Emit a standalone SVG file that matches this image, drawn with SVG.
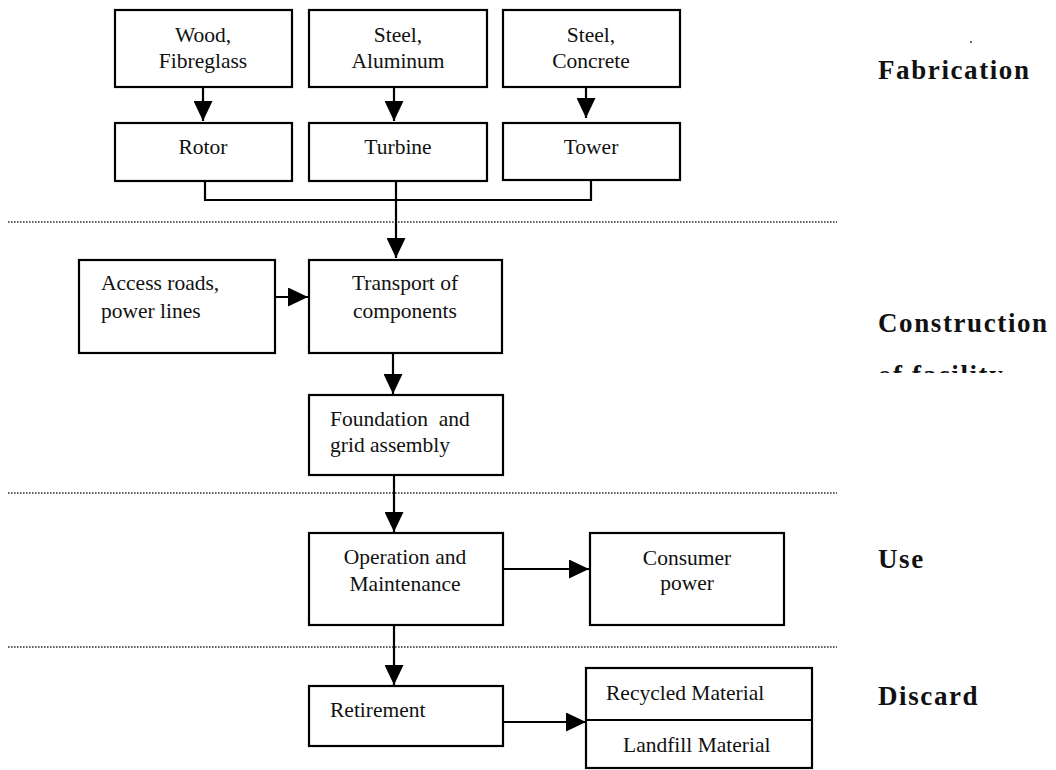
<svg xmlns="http://www.w3.org/2000/svg" width="1056" height="770" viewBox="0 0 1056 770">
<style>
.box{fill:#fff;stroke:#000;stroke-width:2.2}
.t{font-family:"Liberation Serif",serif;font-size:21.5px;fill:#111}
.c{text-anchor:middle}
.sec{font-family:"Liberation Serif",serif;font-size:27px;font-weight:bold;fill:#111;letter-spacing:1.6px}
.ln{fill:none;stroke:#000;stroke-width:2.2}
.dot{stroke:#333;stroke-width:1.6;stroke-dasharray:1.6 1.4}
</style>
<defs>
<marker id="ah" viewBox="0 0 20 19" refX="20" refY="9.5" markerWidth="20" markerHeight="19" markerUnits="userSpaceOnUse" orient="auto">
<path d="M0,0 L20,9.5 L0,19 Z" fill="#000"/>
</marker>
<clipPath id="clipfac"><rect x="860" y="340" width="196" height="33"/></clipPath>
</defs>
<rect width="1056" height="770" fill="#fff"/>

<g id="dividers">
<line class="dot" x1="8" y1="222" x2="837" y2="222"/>
<line class="dot" x1="8" y1="493" x2="837" y2="493"/>
<line class="dot" x1="8" y1="647" x2="837" y2="647"/>
</g>

<g id="connectors">
<line class="ln" x1="203" y1="87" x2="203" y2="121" marker-end="url(#ah)"/>
<line class="ln" x1="394" y1="87" x2="394" y2="121" marker-end="url(#ah)"/>
<line class="ln" x1="586" y1="87" x2="586" y2="118" marker-end="url(#ah)"/>
<polyline class="ln" points="205,181 205,200 591,200 591,180"/>
<line class="ln" x1="396" y1="181" x2="396" y2="258" marker-end="url(#ah)"/>
<line class="ln" x1="275" y1="297" x2="308" y2="297" marker-end="url(#ah)"/>
<line class="ln" x1="393" y1="353" x2="393" y2="394" marker-end="url(#ah)"/>
<line class="ln" x1="394" y1="475" x2="394" y2="532" marker-end="url(#ah)"/>
<line class="ln" x1="503" y1="569" x2="589" y2="569" marker-end="url(#ah)"/>
<line class="ln" x1="394" y1="625" x2="394" y2="685" marker-end="url(#ah)"/>
<line class="ln" x1="503" y1="722" x2="586" y2="722" marker-end="url(#ah)"/>
</g>

<g id="wood">
<rect class="box" x="115" y="10" width="177" height="77"/>
<text class="t c" x="203" y="42">Wood,</text>
<text class="t c" x="203" y="68">Fibreglass</text>
</g>
<g id="steel-aluminum">
<rect class="box" x="309" y="10" width="178" height="77"/>
<text class="t c" x="398" y="42">Steel,</text>
<text class="t c" x="398" y="68">Aluminum</text>
</g>
<g id="steel-concrete">
<rect class="box" x="503" y="10" width="177" height="77"/>
<text class="t c" x="591" y="42">Steel,</text>
<text class="t c" x="591" y="68">Concrete</text>
</g>
<g id="rotor">
<rect class="box" x="115" y="123" width="177" height="58"/>
<text class="t c" x="203" y="154">Rotor</text>
</g>
<g id="turbine">
<rect class="box" x="309" y="123" width="178" height="58"/>
<text class="t c" x="398" y="154">Turbine</text>
</g>
<g id="tower">
<rect class="box" x="503" y="123" width="177" height="57"/>
<text class="t c" x="591" y="154">Tower</text>
</g>
<g id="access">
<rect class="box" x="79" y="260" width="196" height="93"/>
<text class="t" x="101" y="290">Access roads,</text>
<text class="t" x="101" y="318">power lines</text>
</g>
<g id="transport">
<rect class="box" x="309" y="260" width="193" height="93"/>
<text class="t c" x="405" y="290">Transport of</text>
<text class="t c" x="405" y="318">components</text>
</g>
<g id="foundation">
<rect class="box" x="309" y="395" width="194" height="80"/>
<text class="t" x="330" y="426" xml:space="preserve">Foundation  and</text>
<text class="t" x="330" y="452">grid assembly</text>
</g>
<g id="operation">
<rect class="box" x="309" y="533" width="194" height="92"/>
<text class="t c" x="405" y="564">Operation and</text>
<text class="t c" x="405" y="591">Maintenance</text>
</g>
<g id="consumer">
<rect class="box" x="590" y="533" width="194" height="92"/>
<text class="t c" x="687" y="565">Consumer</text>
<text class="t c" x="687" y="590">power</text>
</g>
<g id="retirement">
<rect class="box" x="309" y="686" width="194" height="60"/>
<text class="t" x="330" y="717">Retirement</text>
</g>
<g id="materials">
<rect class="box" x="586" y="668" width="226" height="100"/>
<line class="ln" x1="586" y1="720" x2="812" y2="720"/>
<text class="t" x="606" y="700">Recycled Material</text>
<text class="t" x="623" y="752">Landfill Material</text>
</g>

<g id="labels">
<circle cx="971" cy="42" r="1" fill="#333"/>
<text class="sec" x="878" y="79">Fabrication</text>
<text class="sec" x="878" y="332">Construction</text>
<text class="sec" x="878" y="384" clip-path="url(#clipfac)">of facility</text>
<text class="sec" x="878" y="568">Use</text>
<text class="sec" x="878" y="705">Discard</text>
</g>
</svg>
